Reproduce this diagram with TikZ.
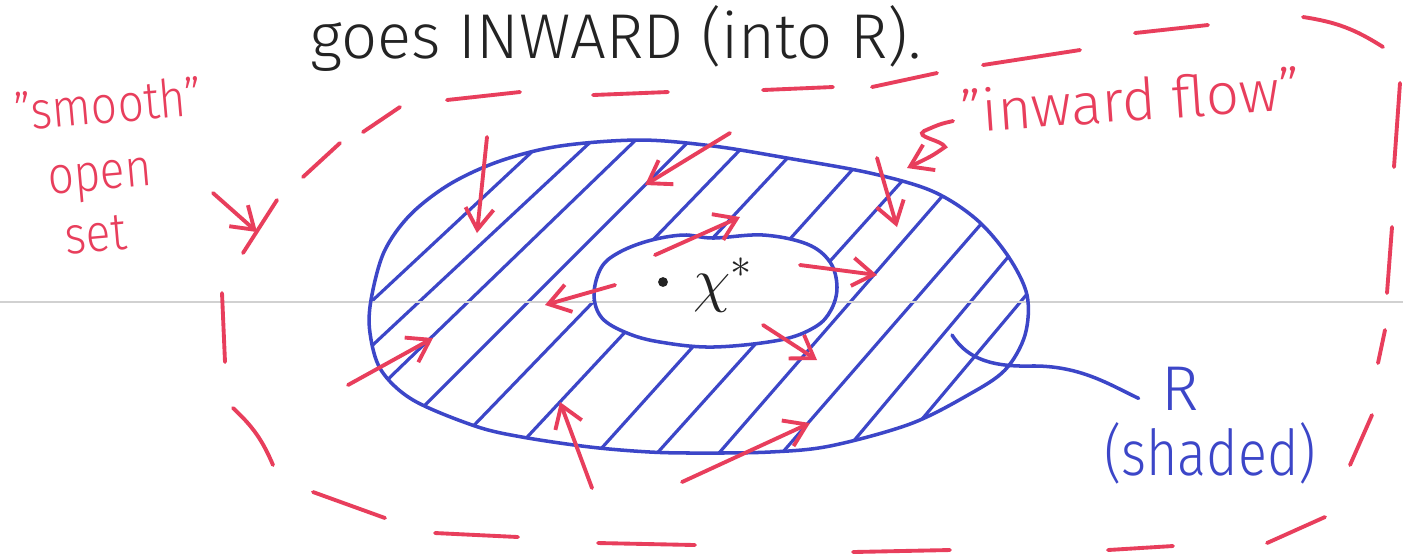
\documentclass[tikz,border=0pt]{standalone}
\usepackage{fontspec}
\setmainfont{Fira Sans}[UprightFont={* Light}]
\usetikzlibrary{arrows.meta}

\definecolor{penred}{RGB}{232,62,92}
\definecolor{penblue}{RGB}{60,70,200}
\definecolor{penblack}{RGB}{35,35,35}

\tikzset{
  redpen/.style={penred, line width=1.1pt, line cap=round},
  bluepen/.style={penblue, line width=1pt, line cap=round},
  flow/.style={redpen, -{Straight Barb[length=6pt,width=8pt]}},
  hatch/.style={penblue, line width=0.9pt},
  paperline/.style={black!18, line width=0.6pt},
  inktext/.style={inner sep=0pt, text=penblack, font=\fontsize{18}{19}\selectfont},
  redtext/.style={inner sep=0pt, text=penred, font=\fontsize{16.5}{17}\selectfont},
  sidetext/.style={redtext, font=\fontsize{15}{16}\selectfont, anchor=base, rotate=5, transform shape, xscale=0.87},
  bluetext/.style={inner sep=0pt, text=penblue, font=\fontsize{18}{19}\selectfont}
}

% outline of R and of the hole round x*
\newcommand{\regionR}{plot[smooth cycle, tension=0.55] coordinates {(371,300) (384,252) (410,215) (450,184) (500,161) (560,146) (640,140) (713,146) (787,158) (870,173) (932,191) (976,219) (1008,256) (1027,295) (1025,335) (1005,370) (968,395) (910,424) (830,446) (770,452) (700,453) (650,452) (590,447) (522,437) (475,426) (413,400) (381,370) (370,333)}}
\newcommand{\holeR}{plot[smooth cycle, tension=0.6] coordinates {(594,295) (601,268) (618,253) (648,241) (683,235) (713,238) (763,235) (807,244) (830,262) (837,287) (831,310) (815,327) (780,340) (713,347) (660,342) (627,333) (602,318)}}

\begin{document}
\begin{tikzpicture}[x=0.01cm, y=-0.01cm]
\useasboundingbox (0,0) rectangle (1403,553);
\fill[white] (0,0) rectangle (1403,553);

% shaded region
\begin{scope}
  \clip \regionR;
  \foreach \x/\a in {373/43, 421/43, 470/44, 530/45, 595/46, 655/47, 735/48, 795/48, 852/49, 915/49, 972/50, 1022/50}
    \draw[hatch] ({\x+250*cot(\a)},50) -- ({\x-250*cot(\a)},550);
  \fill[white] \holeR;
\end{scope}
\draw[paperline] (0,302) -- (1403,302);
\draw[bluepen] \regionR;
\draw[bluepen] \holeR;

% dashed open set
\foreach \p/\q in {{222,293}/{225,362}, {313,492}/{385,518}, {435,533}/{518,537},
  {598,543}/{695,545}, {853,552}/{950,550}, {1108,550}/{1173,546}, {1267,543}/{1325,517},
  {1350,465}/{1372,415}, {1378,363}/{1385,330}, {1387,293}/{1392,227}, {1394,167}/{1400,83},
  {1135,33}/{1208,25}, {983,65}/{1080,50}, {872,87}/{937,73}, {763,90}/{833,87},
  {593,95}/{668,92}, {447,100}/{520,92}, {363,132}/{400,107}, {303,177}/{340,143},
  {243,253}/{277,200}}
  \draw[redpen] (\p) -- (\q);
\draw[redpen] (233,408) to[bend left=12] (273,465);
\draw[redpen] (1303,17) to[bend left=12] (1383,47);

% flow arrows
\draw[flow] (487,137) -- (477,233);
\draw[flow] (730,133) -- (645,185);
\draw[flow] (655,255) -- (740,217);
\draw[flow] (800,265) -- (877,275);
\draw[flow] (877,158) -- (897,227);
\draw[flow] (615,285) -- (545,305);
\draw[flow] (348,385) -- (433,338);
\draw[flow] (592,488) -- (560,402);
\draw[flow] (763,325) -- (817,360);
\draw[flow] (682,482) -- (810,423);

% fixed point
\fill[penblack] (663,282) circle (1.4pt);
\node[inktext, anchor=base west] (xstar) at (693,300) {$\chi^{*}$};

% labels
\node[inktext, anchor=base west] (title) at (310,58) {goes INWARD (into R).};
\node[sidetext] (lblsmooth) at (110,123) {"smooth"};
\node[sidetext] (lblopen) at (101,190) {open};
\node[sidetext] (lblset) at (97,252) {set};
\draw[flow] (213,193) -- (257,232);
\node[redtext, anchor=base, rotate=4] (lblflow) at (1132,121) {"inward flow"};
\draw[flow] (953,121) .. controls (940,124) .. (924,131) .. controls (914,137) and (942,140) .. (945,147) .. controls (932,156) .. (907,168);

\node[bluetext, anchor=base] (lblR) at (1180,410) {R};
\node[bluetext, anchor=base, transform shape, xscale=0.85] (lblshaded) at (1210,475) {(shaded)};
\coordinate (rtip) at (952,335);
\draw[bluepen] (rtip) .. controls (965,355) and (985,367) .. (1030,366) .. controls (1080,365) and (1110,385) .. ([xshift=-0.22cm,yshift=-0.1cm]lblR.west);
\end{tikzpicture}
\end{document}
